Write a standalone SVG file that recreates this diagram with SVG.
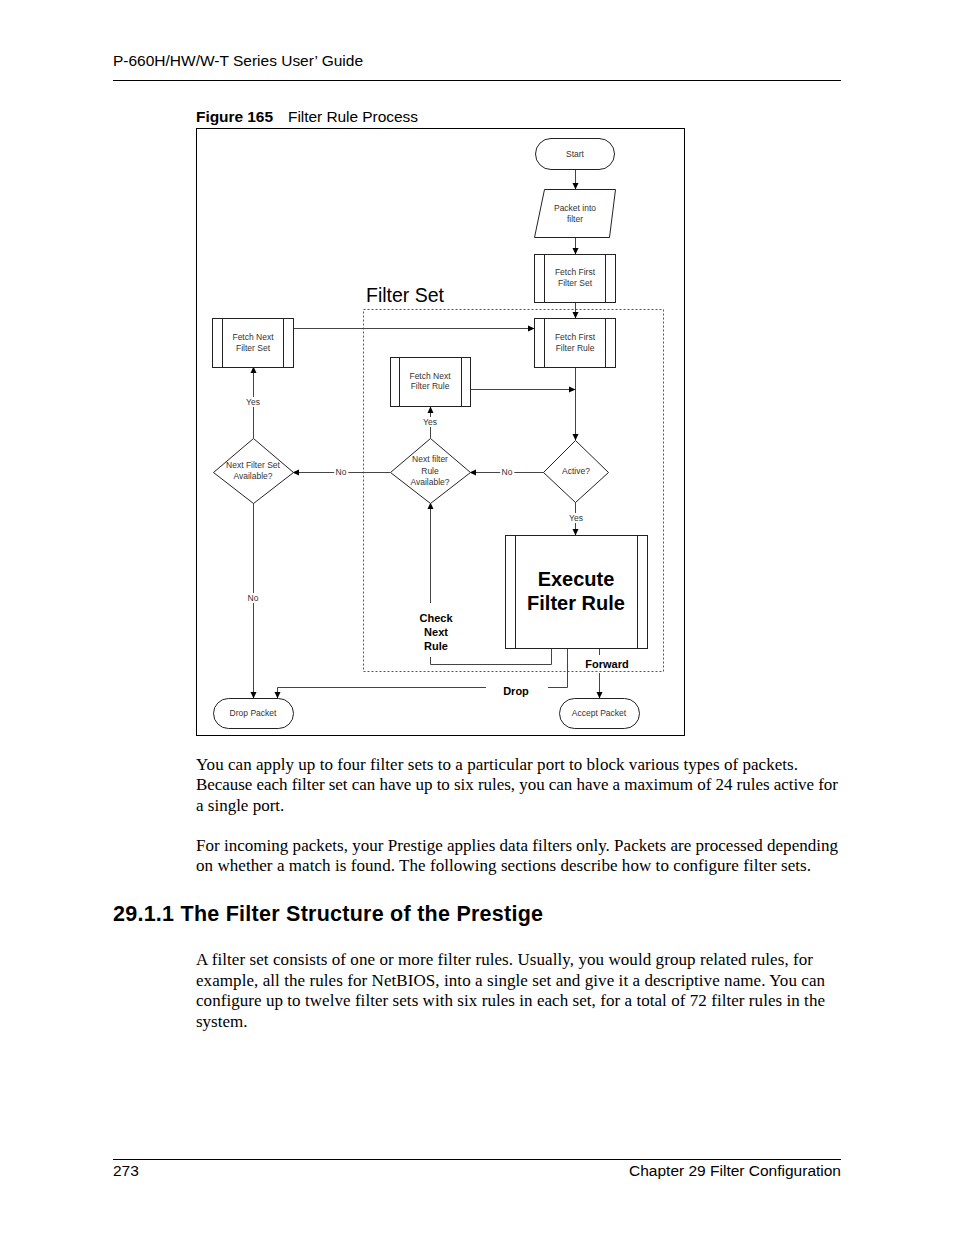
<svg xmlns="http://www.w3.org/2000/svg" width="954" height="1235" viewBox="0 0 954 1235">
<style>
.hdr{font-family:"Liberation Sans",Arial,sans-serif;font-size:15.5px;fill:#000}
.body{font-family:"Liberation Serif","Times New Roman",serif;font-size:17px;fill:#000}
.h2{font-family:"Liberation Sans",Arial,sans-serif;font-size:21.5px;font-weight:bold;fill:#000}
.shape{fill:#fff;stroke:#222;stroke-width:1}
.inner{stroke:#222;stroke-width:1}
.nt{font-family:"Liberation Sans",Arial,sans-serif;font-size:8.5px;fill:#333;text-anchor:middle}
.lbl{font-family:"Liberation Sans",Arial,sans-serif;font-size:8.5px;fill:#333;text-anchor:middle;stroke:#fff;stroke-width:4;paint-order:stroke}
.blbl{font-family:"Liberation Sans",Arial,sans-serif;font-size:11px;font-weight:bold;fill:#000;text-anchor:middle}
.big{font-family:"Liberation Sans",Arial,sans-serif;font-size:20px;font-weight:bold;fill:#000;text-anchor:middle}
.conn{fill:none;stroke:#444;stroke-width:1}
</style>
<defs>
<marker id="arr" markerWidth="7" markerHeight="7" refX="6" refY="3.5" orient="auto" markerUnits="userSpaceOnUse">
<path d="M0,0.5 L6.5,3.5 L0,6.5 Z" fill="#000"/>
</marker>
</defs>
<rect width="954" height="1235" fill="#fff"/>

<g id="page">
<text class="hdr" x="113" y="66" textLength="250">P-660H/HW/W-T Series User’ Guide</text>
<line x1="113" y1="80.5" x2="841" y2="80.5" stroke="#000" stroke-width="1"/>
<text class="hdr" x="196" y="122"><tspan font-weight="bold" textLength="77">Figure 165</tspan><tspan x="288" textLength="130">Filter Rule Process</tspan></text>
<rect x="196.5" y="128.5" width="488" height="607" fill="none" stroke="#000" stroke-width="1"/>

<text class="body" x="196" y="770" textLength="602">You can apply up to four filter sets to a particular port to block various types of packets.</text>
<text class="body" x="196" y="790" textLength="642">Because each filter set can have up to six rules, you can have a maximum of 24 rules active for</text>
<text class="body" x="196" y="811">a single port.</text>
<text class="body" x="196" y="851" textLength="642">For incoming packets, your Prestige applies data filters only. Packets are processed depending</text>
<text class="body" x="196" y="871" textLength="615">on whether a match is found. The following sections describe how to configure filter sets.</text>

<text class="h2" x="113" y="921" textLength="430">29.1.1  The Filter Structure of the Prestige</text>

<text class="body" x="196" y="965" textLength="617">A filter set consists of one or more filter rules. Usually, you would group related rules, for</text>
<text class="body" x="196" y="986" textLength="629">example, all the rules for NetBIOS, into a single set and give it a descriptive name. You can</text>
<text class="body" x="196" y="1006" textLength="629">configure up to twelve filter sets with six rules in each set, for a total of 72 filter rules in the</text>
<text class="body" x="196" y="1027">system.</text>

<line x1="113" y1="1159.5" x2="841" y2="1159.5" stroke="#000" stroke-width="1"/>
<text class="hdr" x="113" y="1176">273</text>
<text class="hdr" x="841" y="1176" text-anchor="end">Chapter 29 Filter Configuration</text>
</g>

<g id="filter-set-box">
<rect x="363.5" y="309.5" width="300" height="362" fill="none" stroke="#555" stroke-width="1" stroke-dasharray="2,2"/>
<text x="366" y="302" font-family="'Liberation Sans',Arial,sans-serif" font-size="19.5" fill="#000">Filter Set</text>
</g>

<g id="connectors">
<path class="conn" d="M575.5,170 V189" marker-end="url(#arr)"/>
<path class="conn" d="M575.5,237 V254" marker-end="url(#arr)"/>
<path class="conn" d="M575.5,302 V318" marker-end="url(#arr)"/>
<path class="conn" d="M293,328.5 H534" stroke="#000" marker-end="url(#arr)"/>
<path class="conn" d="M575.5,367 V440" marker-end="url(#arr)"/>
<path class="conn" d="M470,389.5 H575" marker-end="url(#arr)"/>
<path class="conn" d="M544,472.5 H470" marker-end="url(#arr)"/>
<path class="conn" d="M430.5,438 V407" marker-end="url(#arr)"/>
<path class="conn" d="M390,472.5 H293" marker-end="url(#arr)"/>
<path class="conn" d="M253.5,438 V367" stroke="#000" marker-end="url(#arr)"/>
<path class="conn" d="M253.5,503 V698" stroke="#000" marker-end="url(#arr)"/>
<path class="conn" d="M575.5,502 V535" marker-end="url(#arr)"/>
<path class="conn" d="M551.5,648 V664.5 H430.5 V657"/>
<path class="conn" d="M430.5,603 V503" marker-end="url(#arr)"/>
<path class="conn" d="M567.5,648 V687.5 H548" stroke="#000"/>
<path class="conn" d="M486,687.5 H277.5 V698" marker-end="url(#arr)"/>
<path class="conn" d="M599.5,648 V655"/>
<path class="conn" d="M599.5,673 V698" marker-end="url(#arr)"/>
<text class="lbl" x="253" y="405">Yes</text>
<text class="lbl" x="341" y="475">No</text>
<text class="lbl" x="507" y="475">No</text>
<text class="lbl" x="430" y="425">Yes</text>
<text class="lbl" x="576" y="521">Yes</text>
<text class="lbl" x="253" y="601">No</text>
<text class="blbl" x="436" y="622">Check</text>
<text class="blbl" x="436" y="636">Next</text>
<text class="blbl" x="436" y="650">Rule</text>
<text class="blbl" x="516" y="695">Drop</text>
<text class="blbl" x="607" y="668">Forward</text>
</g>

<g id="start">
<rect class="shape" x="535.5" y="138.5" width="79" height="31" rx="15.5"/>
<text class="nt" x="575" y="157">Start</text>
</g>

<g id="packet-into-filter">
<polygon class="shape" points="544.5,189.5 615.5,189.5 609.5,237.5 534.5,237.5"/>
<text class="nt" x="575" y="211">Packet into</text>
<text class="nt" x="575" y="222">filter</text>
</g>

<g id="fetch-first-filter-set">
<rect class="shape" x="534.5" y="254.5" width="81" height="48"/>
<line class="inner" x1="544.5" y1="254.5" x2="544.5" y2="302.5"/>
<line class="inner" x1="605.5" y1="254.5" x2="605.5" y2="302.5"/>
<text class="nt" x="575" y="275">Fetch First</text>
<text class="nt" x="575" y="286">Filter Set</text>
</g>

<g id="fetch-first-filter-rule">
<rect class="shape" x="534.5" y="318.5" width="81" height="49"/>
<line class="inner" x1="544.5" y1="318.5" x2="544.5" y2="367.5"/>
<line class="inner" x1="605.5" y1="318.5" x2="605.5" y2="367.5"/>
<text class="nt" x="575" y="340">Fetch First</text>
<text class="nt" x="575" y="351">Filter Rule</text>
</g>

<g id="fetch-next-filter-set">
<rect class="shape" x="212.5" y="318.5" width="81" height="49"/>
<line class="inner" x1="222.5" y1="318.5" x2="222.5" y2="367.5"/>
<line class="inner" x1="283.5" y1="318.5" x2="283.5" y2="367.5"/>
<text class="nt" x="253" y="340">Fetch Next</text>
<text class="nt" x="253" y="351">Filter Set</text>
</g>

<g id="fetch-next-filter-rule">
<rect class="shape" x="390.5" y="357.5" width="80" height="49"/>
<line class="inner" x1="399.5" y1="357.5" x2="399.5" y2="406.5"/>
<line class="inner" x1="461.5" y1="357.5" x2="461.5" y2="406.5"/>
<text class="nt" x="430" y="379">Fetch Next</text>
<text class="nt" x="430" y="389">Filter Rule</text>
</g>

<g id="active">
<polygon class="shape" points="575.5,440.5 608.5,472.5 575.5,502.5 543.5,472.5"/>
<text class="nt" x="576" y="474">Active?</text>
</g>

<g id="next-filter-rule-available">
<polygon class="shape" points="430.5,438.5 470.5,472.5 430.5,503.5 390.5,472.5"/>
<text class="nt" x="430" y="462">Next filter</text>
<text class="nt" x="430" y="474">Rule</text>
<text class="nt" x="430" y="485">Available?</text>
</g>

<g id="next-filter-set-available">
<polygon class="shape" points="253.5,438.5 293.5,472.5 253.5,503.5 213.5,472.5"/>
<text class="nt" x="253" y="468">Next Filter Set</text>
<text class="nt" x="253" y="479">Available?</text>
</g>

<g id="execute-filter-rule">
<rect class="shape" x="505.5" y="535.5" width="142" height="113"/>
<line class="inner" x1="515.5" y1="535.5" x2="515.5" y2="648.5"/>
<line class="inner" x1="637.5" y1="535.5" x2="637.5" y2="648.5"/>
<text class="big" x="576" y="586">Execute</text>
<text class="big" x="576" y="610">Filter Rule</text>
</g>

<g id="drop-packet">
<rect class="shape" x="213.5" y="698.5" width="80" height="30" rx="15"/>
<text class="nt" x="253" y="716">Drop Packet</text>
</g>

<g id="accept-packet">
<rect class="shape" x="559.5" y="698.5" width="80" height="30" rx="15"/>
<text class="nt" x="599" y="716">Accept Packet</text>
</g>
</svg>
